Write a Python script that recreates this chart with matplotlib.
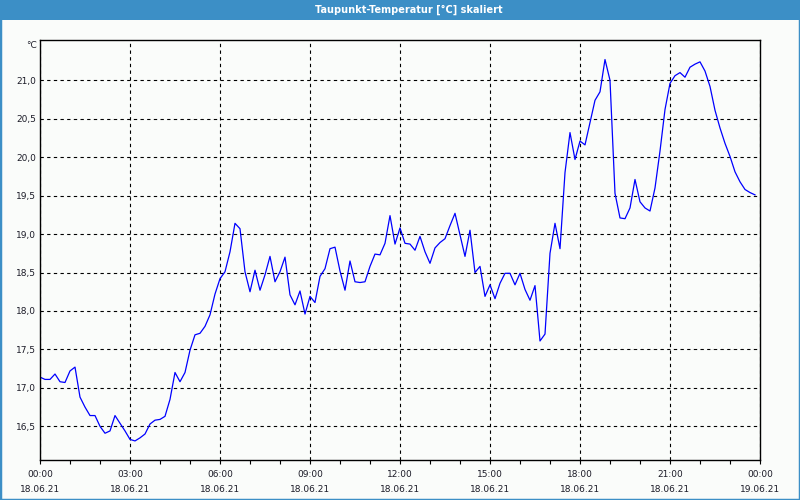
import numpy as np
import matplotlib
matplotlib.use("Agg")
import matplotlib.pyplot as plt
from matplotlib.patches import Rectangle
from matplotlib.ticker import MultipleLocator

# dew point readings, one every 10 minutes from 18.06.21 00:00
minutes = list(range(0, 1440, 10))
dewpoint = [
    17.14, 17.11, 17.11, 17.18, 17.08, 17.07, 17.22, 17.27, 16.88, 16.75, 16.64, 16.64,
    16.50, 16.41, 16.44, 16.64, 16.54, 16.44, 16.33, 16.31, 16.35, 16.40, 16.53, 16.58,
    16.59, 16.63, 16.85, 17.20, 17.08, 17.20, 17.49, 17.69, 17.71, 17.80, 17.95, 18.22,
    18.42, 18.51, 18.77, 19.14, 19.07, 18.51, 18.25, 18.53, 18.27, 18.47, 18.71, 18.38,
    18.51, 18.70, 18.21, 18.08, 18.26, 17.96, 18.19, 18.11, 18.45, 18.55, 18.81, 18.83,
    18.52, 18.27, 18.65, 18.38, 18.37, 18.38, 18.58, 18.74, 18.73, 18.88, 19.24, 18.87,
    19.08, 18.88, 18.87, 18.79, 18.97, 18.77, 18.62, 18.82, 18.89, 18.94, 19.11, 19.27,
    18.99, 18.71, 19.05, 18.50, 18.58, 18.19, 18.34, 18.16, 18.36, 18.49, 18.49, 18.34,
    18.49, 18.28, 18.14, 18.33, 17.61, 17.70, 18.75, 19.14, 18.81, 19.80, 20.32, 19.97,
    20.21, 20.16, 20.45, 20.74, 20.85, 21.27, 21.00, 19.53, 19.21, 19.20, 19.34, 19.71,
    19.42, 19.34, 19.30, 19.60, 20.08, 20.62, 20.96, 21.06, 21.10, 21.04, 21.17, 21.21,
    21.24, 21.12, 20.92, 20.61, 20.38, 20.18, 20.01, 19.81, 19.68, 19.58, 19.54, 19.51,
]
tick_hours = [0, 3, 6, 9, 12, 15, 18, 21, 24]
tick_labels = ["00:00\n18.06.21", "03:00\n18.06.21", "06:00\n18.06.21",
               "09:00\n18.06.21", "12:00\n18.06.21", "15:00\n18.06.21",
               "18:00\n18.06.21", "21:00\n18.06.21", "00:00\n19.06.21"]
y_ticks = [16.5, 17.0, 17.5, 18.0, 18.5, 19.0, 19.5, 20.0, 20.5, 21.0]
y_labels = ["16,5", "17,0", "17,5", "18,0", "18,5", "19,0", "19,5", "20,0", "20,5", "21,0"]
title = "Taupunkt-Temperatur [°C] skaliert"
unit = "°C"

bg = "#fafcfa"
bar_blue = "#3c8fc6"
txt = "#1c1c28"

fig = plt.figure(figsize=(8, 5), dpi=100, facecolor=bg)
ax = fig.add_axes([40 / 800, 40 / 500, 720 / 800, 420 / 500], facecolor=bg)

hours = np.array(minutes) / 60.0
ax.plot(hours, dewpoint, color="#0000ff", lw=0.9)

ax.set_xlim(0, 24)
ax.set_ylim(16.062, 21.524)

ax.set_xticks(tick_hours)
ax.set_xticklabels(tick_labels, fontsize=6.5, color=txt, linespacing=1.9)
ax.xaxis.set_minor_locator(MultipleLocator(1))
ax.tick_params(axis="x", which="both", direction="out", length=3, width=0.8, pad=4, color="black")

ax.set_yticks(y_ticks)
ax.set_yticklabels(y_labels)
ax.tick_params(axis="y", length=0, pad=3, labelsize=6.5, labelcolor=txt)

ax.grid(True, color="black", lw=0.8, linestyle=(0, (3, 3)))
for s in ax.spines.values():
    s.set_color("black")
    s.set_linewidth(1.0)

# title bar and window frame
fig.patches.append(Rectangle((0, 1 - 20 / 500), 1, 20 / 500, transform=fig.transFigure,
                             facecolor=bar_blue, edgecolor="none", zorder=0))
fig.patches.append(Rectangle((0, 0), 1, 1, transform=fig.transFigure,
                             facecolor="none", edgecolor=bar_blue, lw=2.5, zorder=5))
fig.text(409 / 800, 1 - 9.5 / 500, title, color="white", fontsize=7, fontweight="bold",
         ha="center", va="center")
fig.text(37 / 800, 1 - 45 / 500, unit, color=txt, fontsize=6.5, ha="right", va="center")

fig.savefig("out.png", dpi=100, facecolor=bg)
